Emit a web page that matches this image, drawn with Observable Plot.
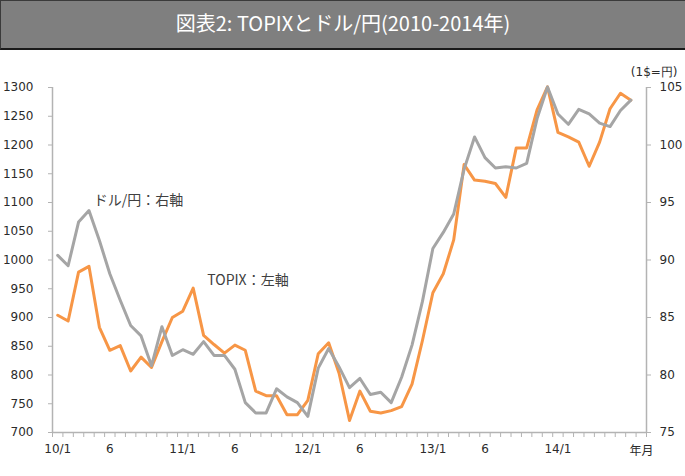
<!DOCTYPE html>
<html><head><meta charset="utf-8">
<script src="https://cdn.jsdelivr.net/npm/d3@7"></script>
<script src="https://cdn.jsdelivr.net/npm/@observablehq/plot@0.6"></script>
<style>
html,body{margin:0;padding:0;background:#fff;}
body{width:685px;height:476px;overflow:hidden;}
#title{box-sizing:border-box;width:685px;height:50px;background:#7f7f7f;border-top:1px solid #3a3a3a;border-bottom:2px solid #1a1a1a;border-left:1px solid #3a3a3a;color:#fff;font-family:"Noto Sans CJK JP";font-size:20px;text-align:center;line-height:44px;}
#chart svg{display:block;}
</style></head><body>
<div id="title">図表2: TOPIXとドル/円(2010-2014年)</div>
<div id="chart"></div>
<script>
// Month categories: 2010/1 .. 2014/9 (last one empty)
const categories = [];
for (let y = 2010; y <= 2014; y++) for (let m = 1; m <= 12; m++) if (y < 2014 || m <= 9) categories.push(`${y}/${m}`);

// TOPIX (left axis), month-end, 2010/1 .. 2014/8
const topix = [904, 894, 979, 989, 883, 843, 851, 807, 831, 813, 858, 900,
  911, 951, 869, 853, 838, 852, 843, 772, 764, 764, 731, 731,
  756, 837, 856, 803, 721, 772, 737, 734, 738, 745, 784, 860,
  943, 976, 1035, 1166, 1139, 1137, 1133, 1109, 1195, 1195, 1261, 1301,
  1222, 1214, 1205, 1163, 1205, 1263, 1290, 1278];

// USD/JPY (right axis), 2010/1 .. 2014/8
const usdjpy = [90.4, 89.5, 93.3, 94.3, 91.7, 88.8, 86.5, 84.3, 83.4, 80.8, 84.2, 81.7,
  82.2, 81.8, 82.9, 81.7, 81.7, 80.5, 77.6, 76.7, 76.7, 78.8, 78.1, 77.6,
  76.4, 80.6, 82.3, 80.7, 78.9, 79.7, 78.3, 78.5, 77.6, 79.8, 82.6, 86.4,
  91.0, 92.4, 94.0, 97.9, 100.7, 98.9, 98.0, 98.1, 98.0, 98.4, 102.3, 105.05,
  102.7, 101.8, 103.1, 102.7, 101.9, 101.6, 103.0, 103.9];

// x tick labels
const labelMonths = ["2010/1", "2010/6", "2011/1", "2011/6", "2012/1", "2012/6", "2013/1", "2013/6", "2014/1"];
const labelTexts = ["10/1", "6", "11/1", "6", "12/1", "6", "13/1", "6", "14/1"];

// left / right axis ticks
const leftTicks = [700, 750, 800, 850, 900, 950, 1000, 1050, 1100, 1150, 1200, 1250, 1300];
const rightTicks = [75, 80, 85, 90, 95, 100, 105];

// annotations (anchored in data space: month index, TOPIX-scale value)
const annotations = [
  {text: "ドル/円：右軸", i: 3.45, v: 1103},
  {text: "TOPIX：左軸", i: 14.35, v: 964}
];

const lDom = [700, 1300], rDom = [75, 105];
const toLeft = d => lDom[0] + (d - rDom[0]) * (lDom[1] - lDom[0]) / (rDom[1] - rDom[0]);
const toRight = v => rDom[0] + (v - lDom[0]) * (rDom[1] - rDom[0]) / (lDom[1] - lDom[0]);

const n = categories.length;
const topixData = topix.map((v, i) => ({i, v}));
const fxData = usdjpy.map((d, i) => ({i, v: toLeft(d)}));
const labelIdx = labelMonths.map(m => categories.indexOf(m));
const boundaries = d3.range(-0.5, n, 1);
const axisColor = "#b3b3b3";
const textColor = "#2b2b2b";
const tickFont = "DejaVu Sans";

const chart = Plot.plot({
  width: 685,
  height: 426,
  marginLeft: 52,
  marginRight: 39,
  marginTop: 37,
  marginBottom: 44,
  style: {fontFamily: tickFont, fontSize: "12px", color: textColor, background: "#fff"},
  x: {type: "linear", domain: [-0.5, n - 0.5], axis: null},
  y: {domain: lDom, axis: null},
  marks: [
    Plot.axisY(leftTicks, {anchor: "left", tickSize: 4, tickPadding: 15, stroke: axisColor, fill: textColor, label: null, fontFamily: tickFont, fontSize: 12, tickFormat: d => String(d)}),
    Plot.axisY(rightTicks.map(toLeft), {anchor: "right", tickSize: 4, tickPadding: 9, stroke: axisColor, fill: textColor, label: null, fontFamily: tickFont, fontSize: 12, tickFormat: d => String(Math.round(toRight(d)))}),
    Plot.axisX(boundaries, {anchor: "bottom", tickSize: 5, stroke: axisColor, tickFormat: () => "", label: null}),
    Plot.axisX(labelIdx, {anchor: "bottom", tickSize: 0, tickPadding: 12, fill: textColor, label: null, fontFamily: tickFont, fontSize: 12, tickFormat: d => labelTexts[labelIdx.indexOf(d)]}),
    Plot.ruleY([lDom[0]], {stroke: axisColor, strokeWidth: 1.5}),
    Plot.ruleX([-0.5, n - 0.5], {stroke: axisColor, strokeWidth: 1.5}),
    Plot.line(topixData, {x: "i", y: "v", stroke: "#f79646", strokeWidth: 3, strokeLinejoin: "round"}),
    Plot.line(fxData, {x: "i", y: "v", stroke: "#a5a5a5", strokeWidth: 3, strokeLinejoin: "round"}),
    Plot.text(annotations, {x: "i", y: "v", text: "text", textAnchor: "start", fontFamily: "Noto Sans CJK JP", fontSize: 14, fill: "#404040"}),
    Plot.text(["(1$=円)"], {frameAnchor: "top-right", dx: 31, dy: -20, textAnchor: "end", fontFamily: tickFont, fontSize: 12, fill: textColor}),
    Plot.text(["年月"], {frameAnchor: "bottom-right", dx: -5, dy: 22, textAnchor: "middle", fontFamily: "Noto Sans CJK JP", fontSize: 12, fill: textColor})
  ]
});
document.getElementById("chart").appendChild(chart);
</script>
</body></html>
